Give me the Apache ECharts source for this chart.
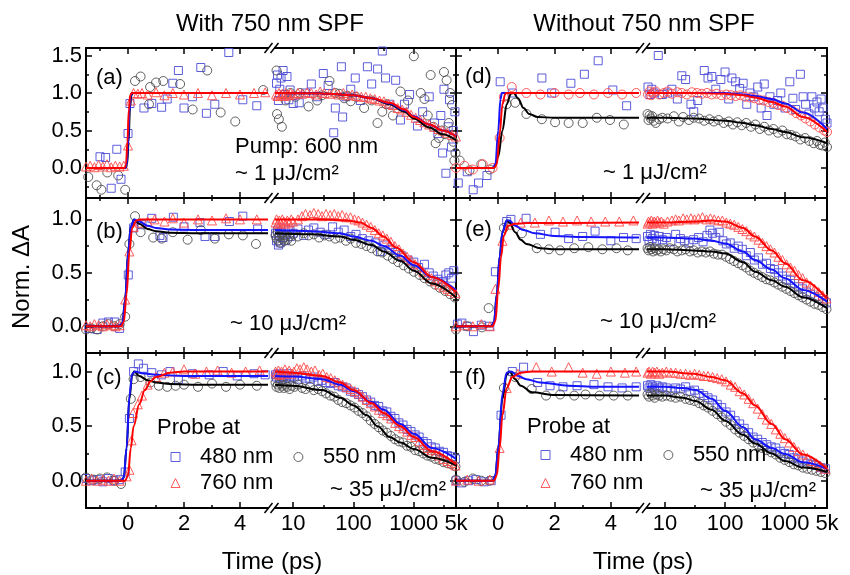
<!DOCTYPE html>
<html><head><meta charset="utf-8">
<script src="https://cdn.jsdelivr.net/npm/echarts@6/dist/echarts.min.js"></script>
<style>html,body{margin:0;padding:0;background:#fff}#c{width:850px;height:575px}</style>
</head><body><div id="c"></div>
<script>
// ================= DATA =================
const columnTitles = ['With 750 nm SPF', 'Without 750 nm SPF'];
const panelLabels = ['(a)', '(b)', '(c)', '(d)', '(e)', '(f)'];
const fluenceLabels = ['~ 1 μJ/cm²', '~ 10 μJ/cm²', '~ 35 μJ/cm²', '~ 1 μJ/cm²', '~ 10 μJ/cm²', '~ 35 μJ/cm²'];
const pumpLabel = 'Pump: 600 nm';
const legendTitle = 'Probe at';
const probeNames = ['480 nm', '550 nm', '760 nm'];
const xAxisName = 'Time (ps)';
const yAxisName = 'Norm. ΔA';
// axis ranges / ticks
const linRange = [-1.5, 5];
const logRange = [5, 5000];
const linMajorTicks = [0, 2, 4];
const linMinorTicks = [-1, 1, 3];
const logMajorTicks = [10, 100, 1000];
const logMinorTicks = [31.62, 316.2, 3162];
const logTickLabels = [10, 100, 1000, 5000];
const yRanges = [[-0.4, 1.6], [-0.25, 1.2], [-0.25, 1.17]];
const yMajorTicks = [[0, 0.5, 1, 1.5], [0, 0.5, 1], [0, 0.5, 1]];
const yMinorTicks = [[-0.25, 0.25, 0.75, 1.25], [0.25, 0.75], [0.25, 0.75]];

// ---- panel (a) ----
const a480 = [[-1.0,0.15],[-0.8,0.14],[-0.6,-0.27],[-0.4,0.25],[-0.25,-0.15],[0.0,0.46],[0.07,0.86],[0.57,0.8],[0.85,0.86],[1.2,0.81],[1.4,0.92],[1.6,1.13],[1.8,1.3],[2.0,0.8],[2.3,0.95],[2.6,1.34],[2.8,0.73],[3.1,0.85],[3.6,1.54],[4.1,0.91],[4.6,0.83],
 [5.3,1.13],[5.5,1.24],[5.7,0.9],[6.0,1.05],[6.3,1.2],[6.8,1.3],[7.2,0.98],[7.9,1.22],[8.5,0.91],[8.9,1.04],[10,0.86],[12.6,0.87],[16,1.0],[20,1.12],[25,0.95],[31.6,1.26],[38,1.1],[47,0.47],[50,0.8],[63,1.35],[66,0.68],[75,0.95],[90,1.05],[107,1.2],[130,0.9],[170,1.35],[200,1.12],[251,1.32],[300,1.56],[340,1.2],[400,0.85],[500,1.17],[600,0.64],[700,0.85],[850,0.98],[1150,0.56],[1400,0.75],[1800,0.95],[2200,0.6],[2500,0.46],[2800,0.7],[3000,0.2],[3160,1.05],[3400,-0.07],[3700,0.55],[3900,0.91],[4200,0.28],[4500,0.5],[4800,0.75]];
const a550 = [[-1.42,-0.12],[-1.12,-0.23],[-0.95,-0.29],[-0.74,-0.06],[-0.35,-0.1],[-0.1,-0.29],[0.25,1.16],[0.45,1.22],[0.75,0.85],[0.79,1.08],[1.0,1.14],[1.26,1.16],[1.86,1.12],[2.31,0.78],[2.83,1.3],[3.31,0.74],[3.83,0.62],[4.83,1.04],
 [5.3,1.3],[5.4,0.72],[5.8,0.65],[6.5,0.55],[7.5,0.9],[9,1.0],[11,0.95],[13,1.0],[18,0.82],[25,0.9],[30,0.97],[40,1.16],[50,1.0],[58,0.99],[70,0.93],[80,0.96],[90,0.89],[110,0.95],[150,0.8],[200,0.9],[250,0.6],[300,0.75],[350,0.85],[450,0.7],[600,1.02],[800,0.9],[1000,1.49],[1300,1.0],[1500,0.92],[1700,0.7],[1900,1.24],[2100,0.55],[2300,0.33],[2600,0.4],[2900,0.5],[3160,1.28],[3300,0.45],[3500,1.17],[3800,0.6],[4000,1.0],[4300,0.84],[4500,0.35],[4700,0.1],[4900,0.2]];
const a760 = [[-1.5,0.02],[-1.35,0.03],[-1.2,0.01],[-1.05,0.04],[-0.9,0.02],[-0.75,0.05],[-0.6,0.01],[-0.45,0.03],[-0.3,0.02],[-0.15,0.03],[0.0,0.3],[0.1,0.9],[0.2,1.0],[0.35,0.99],[0.5,1.0],[0.7,0.98],[1.0,1.01],[1.3,0.97],[1.6,1.0],[2.0,0.98],[2.5,1.0],[3.0,0.97],[3.5,1.0],[4.0,0.98],[4.5,1.0],[4.9,1.01],
 [5.2,0.98],[5.5,0.96],[5.8,1.0],[6.2,0.97],[6.6,0.99],[7,0.96],[7.5,1.0],[8,0.98],[8.5,0.97],[9,1.0],[10,0.98],[12,1.0],[14,0.99],[17,1.01],[20,1.0],[24,0.98],[28,1.02],[33,1.0],[40,0.99],[48,1.01],[57,0.98],[68,1.0],[80,0.97],[95,0.98],[113,0.96],[135,0.95],[160,0.95],[190,0.93],[225,0.92],[270,0.9],[320,0.89],[380,0.86],[450,0.84],[540,0.8],[640,0.78],[760,0.75],[900,0.71],[1070,0.67],[1270,0.64],[1500,0.61],[1800,0.58],[2150,0.55],[2550,0.52],[3000,0.5],[3600,0.47],[4300,0.44],[5000,0.42]];
const aFit480 = [[-1.5,0],[-0.1,0],[-0.05,0.04],[0,0.3],[0.05,0.75],[0.1,0.96],[0.15,1.0],[5,1.0],[30,0.995],[100,0.97],[200,0.93],[400,0.86],[700,0.77],[1000,0.69],[1800,0.58],[3000,0.5],[5000,0.42]];
const aFit550 = [[-1.5,0],[-0.08,0],[-0.03,0.05],[0.02,0.35],[0.07,0.8],[0.12,0.97],[0.18,1.0],[5,1.0],[30,0.995],[100,0.97],[200,0.93],[400,0.85],[700,0.75],[1000,0.66],[1800,0.54],[3000,0.45],[5000,0.37]];
const aFit760 = [[-1.5,0],[-0.12,0],[-0.07,0.05],[-0.02,0.35],[0.03,0.78],[0.08,0.97],[0.13,1.0],[5,1.0],[30,0.995],[100,0.97],[200,0.93],[400,0.87],[700,0.78],[1000,0.68],[1800,0.58],[3000,0.5],[5000,0.42]];

// ---- panel (b) ----
const b480 = [[-1.4,-0.02],[-1.1,-0.03],[-0.9,0.03],[-0.7,0.04],[-0.47,0.04],[-0.3,-0.02],[0.01,0.48],[0.2,0.92],[0.5,0.95],[0.85,1.01],[1.14,0.85],[1.25,0.83],[1.62,1.02],[2.0,0.93],[2.57,0.97],[2.75,0.84],[3.1,0.84],[3.62,0.98],[4.1,1.03],[4.63,0.91],
 [5.1,0.87],[5.3,0.8],[5.5,0.9],[5.7,0.76],[5.9,0.85],[6.1,0.78],[6.4,0.88],[6.7,0.83],[7,0.92],[7.4,0.8],[7.8,0.86],[8.3,0.9],[9,0.84],[10,0.87],[12,0.91],[15,0.85],[18,0.9],[22,0.92],[28,0.88],[35,0.86],[45,0.93],[56,0.88],[70,0.9],[90,0.84],[110,0.86],[140,0.82],[180,0.8],[230,0.78],[280,0.7],[330,0.76],[400,0.72],[500,0.69],[630,0.66],[800,0.62],[1000,0.6],[1200,0.55],[1500,0.58],[1800,0.5],[2100,0.47],[2500,0.44],[3000,0.42],[3400,0.48],[3800,0.5],[4200,0.45],[4600,0.52]];
const b550 = [[-1.5,-0.03],[-1.3,-0.02],[-1.1,-0.03],[-0.9,0.0],[-0.7,0.02],[-0.5,0.0],[-0.3,0.02],[-0.1,0.09],[0.05,0.77],[0.25,1.03],[0.45,0.88],[0.9,0.83],[1.2,0.82],[1.6,0.88],[2.13,0.81],[2.6,0.9],[3.1,0.82],[3.6,0.86],[4.1,0.85],[4.57,0.77],
 [5.1,0.85],[5.3,0.82],[5.5,0.88],[5.7,0.8],[5.9,0.84],[6.2,0.78],[6.5,0.86],[6.8,0.82],[7.1,0.8],[7.5,0.85],[8,0.81],[8.6,0.84],[9.3,0.8],[10,0.86],[12,0.84],[15,0.87],[18,0.85],[22,0.86],[27,0.83],[33,0.85],[40,0.84],[50,0.82],[60,0.83],[75,0.8],[90,0.82],[110,0.78],[135,0.77],[165,0.75],[200,0.73],[250,0.7],[300,0.69],[370,0.66],[450,0.63],[550,0.6],[680,0.57],[830,0.54],[1000,0.51],[1250,0.48],[1500,0.45],[1850,0.42],[2250,0.39],[2700,0.36],[3300,0.33],[4000,0.3],[4800,0.27]];
const b760 = [[-1.5,0.01],[-1.35,0.0],[-1.2,0.02],[-1.05,0.01],[-0.9,0.0],[-0.75,0.02],[-0.6,0.01],[-0.45,0.0],[-0.3,0.01],[-0.1,0.25],[0.05,0.7],[0.2,0.93],[0.43,0.97],[0.7,0.98],[0.95,1.0],[1.3,0.98],[1.6,1.01],[2.0,0.97],[2.5,1.0],[3.0,0.99],[3.5,1.01],[4.0,1.0],[4.6,1.0],
 [5.1,0.97],[5.3,1.0],[5.6,0.96],[5.9,0.99],[6.2,0.97],[6.6,1.0],[7,0.98],[7.5,0.96],[8,0.99],[8.6,0.97],[9.3,1.0],[10,0.98],[12,1.0],[14,1.03],[16,1.05],[19,1.04],[22,1.06],[26,1.05],[30,1.03],[35,1.05],[41,1.04],[48,1.05],[56,1.03],[65,1.04],[76,1.02],[89,1.02],[104,1.0],[121,0.99],[141,0.97],[165,0.95],[193,0.93],[225,0.9],[262,0.87],[306,0.85],[357,0.82],[417,0.79],[486,0.75],[567,0.72],[662,0.68],[772,0.65],[900,0.62],[1050,0.58],[1225,0.55],[1430,0.51],[1670,0.48],[1950,0.45],[2270,0.42],[2650,0.39],[3100,0.37],[3600,0.35],[4200,0.33],[4900,0.31]];
const bFit480 = [[-1.5,0],[-0.3,0],[-0.2,0.03],[-0.1,0.25],[0,0.68],[0.1,0.93],[0.22,1.0],[0.4,0.98],[0.7,0.94],[1.0,0.92],[1.5,0.905],[2.5,0.9],[5,0.9],[20,0.89],[60,0.87],[100,0.84],[200,0.8],[316,0.75],[600,0.66],[1000,0.57],[2000,0.46],[5000,0.34]];
const bFit550 = [[-1.5,0],[-0.3,0],[-0.2,0.03],[-0.1,0.25],[0,0.68],[0.1,0.93],[0.22,1.0],[0.4,0.96],[0.7,0.91],[1.0,0.89],[1.5,0.875],[2.5,0.87],[5,0.87],[20,0.86],[60,0.84],[100,0.81],[200,0.76],[316,0.7],[600,0.61],[1000,0.52],[2000,0.4],[5000,0.27]];
const bFit760 = [[-1.5,0],[-0.25,0],[-0.15,0.04],[-0.05,0.3],[0.05,0.7],[0.15,0.92],[0.3,0.99],[0.5,1.0],[5,1.0],[30,1.0],[80,0.99],[130,0.97],[200,0.92],[316,0.84],[500,0.74],[1000,0.6],[2000,0.46],[5000,0.32]];

// ---- panel (c) ----
const c480 = [[-1.5,0.02],[-1.3,0.0],[-1.1,0.01],[-0.9,-0.01],[-0.7,0.02],[-0.5,0.0],[-0.3,0.01],[-0.1,0.08],[0.05,0.57],[0.2,1.0],[0.37,1.07],[0.55,1.03],[0.85,0.99],[1.2,0.97],[1.5,1.0],[1.8,0.93],[2.3,0.98],[2.9,0.97],[3.4,1.0],[3.9,0.96],[4.5,0.98],[4.9,0.97],
 [5.1,0.97],[5.3,0.95],[5.6,0.98],[5.9,0.94],[6.2,0.97],[6.6,0.93],[7,0.96],[7.5,0.95],[8,0.98],[8.7,0.94],[9.5,0.96],[10.5,0.95],[12,0.93],[14,0.96],[16,0.94],[19,0.93],[22,0.95],[26,0.91],[30,0.92],[35,0.9],[41,0.89],[48,0.9],[56,0.87],[65,0.86],[76,0.85],[89,0.82],[104,0.81],[121,0.79],[141,0.77],[165,0.74],[193,0.72],[225,0.69],[262,0.68],[306,0.64],[357,0.63],[417,0.59],[486,0.57],[567,0.53],[662,0.51],[772,0.47],[900,0.45],[1050,0.42],[1225,0.4],[1430,0.36],[1670,0.34],[1950,0.31],[2270,0.3],[2650,0.27],[3100,0.26],[3600,0.23],[4200,0.22],[4900,0.2]];
const c550 = [[-1.5,0.03],[-1.25,0.01],[-1.0,0.02],[-0.75,0.03],[-0.5,0.0],[-0.25,-0.03],[0.1,0.75],[0.2,0.93],[0.45,0.95],[0.8,0.9],[1.1,0.87],[1.4,0.86],[1.7,0.87],[2.0,0.88],[2.5,0.86],[3.0,0.89],[3.5,0.86],[4.0,0.88],[4.6,0.87],
 [5.1,0.9],[5.3,0.86],[5.6,0.88],[5.9,0.85],[6.2,0.89],[6.6,0.87],[7,0.85],[7.5,0.88],[8,0.86],[8.7,0.84],[9.5,0.87],[10.5,0.86],[12,0.88],[14,0.85],[16,0.84],[19,0.86],[22,0.83],[26,0.84],[30,0.82],[35,0.8],[41,0.78],[48,0.77],[56,0.74],[65,0.72],[76,0.71],[89,0.69],[104,0.67],[121,0.64],[141,0.62],[165,0.59],[193,0.55],[225,0.52],[262,0.49],[306,0.46],[357,0.44],[417,0.41],[486,0.38],[567,0.36],[662,0.35],[772,0.32],[900,0.31],[1050,0.28],[1225,0.27],[1430,0.25],[1670,0.23],[1950,0.22],[2270,0.2],[2650,0.19],[3100,0.17],[3600,0.16],[4200,0.15],[4900,0.13]];
const c760 = [[-1.5,0.0],[-1.3,0.02],[-1.1,0.0],[-0.9,0.01],[-0.7,0.0],[-0.5,0.02],[-0.3,0.0],[-0.05,0.04],[0.05,0.1],[0.13,0.37],[0.18,0.62],[0.35,0.7],[0.5,0.78],[0.7,0.88],[1.0,0.95],[1.3,0.99],[1.6,1.0],[2.0,1.02],[2.4,0.98],[2.8,1.0],[3.2,1.01],[3.7,0.99],[4.2,1.0],[4.7,1.01],
 [5.1,1.0],[5.4,0.98],[5.7,1.01],[6.0,0.97],[6.4,1.0],[6.8,0.98],[7.3,1.02],[7.9,0.99],[8.6,1.01],[9.4,0.98],[10.3,1.0],[11.5,1.03],[13,1.02],[15,1.04],[17,1.02],[20,1.0],[23,1.01],[27,0.97],[31,0.98],[36,0.95],[42,0.94],[49,0.92],[57,0.9],[66,0.88],[77,0.86],[90,0.84],[105,0.82],[122,0.8],[142,0.77],[166,0.74],[194,0.71],[226,0.68],[264,0.65],[308,0.62],[360,0.6],[420,0.57],[490,0.53],[570,0.5],[665,0.48],[775,0.45],[905,0.42],[1055,0.4],[1230,0.36],[1435,0.33],[1675,0.3],[1955,0.28],[2280,0.25],[2660,0.23],[3100,0.2],[3620,0.18],[4220,0.16],[4900,0.14]];
const cFit480 = [[-1.5,0],[-0.25,0],[-0.15,0.03],[-0.05,0.3],[0.05,0.78],[0.15,0.98],[0.25,1.0],[0.5,0.985],[1,0.97],[2,0.96],[5,0.96],[10,0.955],[30,0.93],[60,0.88],[100,0.82],[200,0.72],[316,0.65],[600,0.52],[1000,0.43],[2000,0.3],[5000,0.2]];
const cFit550 = [[-1.5,0],[-0.25,0],[-0.15,0.03],[-0.05,0.3],[0.05,0.75],[0.15,0.97],[0.22,1.0],[0.4,0.96],[0.7,0.92],[1.0,0.9],[1.5,0.885],[2.5,0.88],[5,0.88],[10,0.87],[30,0.83],[60,0.76],[100,0.69],[166,0.6],[250,0.5],[400,0.4],[600,0.35],[1000,0.29],[2000,0.21],[5000,0.14]];
const cFit760 = [[-1.5,0],[-0.1,0],[0,0.05],[0.1,0.3],[0.2,0.5],[0.4,0.7],[0.6,0.83],[0.8,0.91],[1.0,0.95],[1.5,0.99],[2,1.0],[5,1.0],[10,0.99],[30,0.96],[60,0.9],[100,0.83],[200,0.71],[316,0.62],[600,0.5],[1000,0.4],[2000,0.27],[5000,0.15]];

// ---- panel (d) ----
const d480 = [[-1.42,-0.2],[-1.1,-0.05],[-0.89,-0.29],[-0.7,-0.2],[-0.4,-0.1],[0.07,1.15],[0.5,1.0],[1.55,1.2],[1.9,1.0],[2.58,1.13],[3.06,1.25],[3.55,1.43],[4.07,1.04],[4.56,0.83],
 [5.2,1.08],[5.6,0.98],[6,1.05],[6.5,1.0],[7.7,1.5],[9,0.98],[11,1.0],[13,1.05],[16,0.92],[19,1.23],[22,1.18],[27,0.85],[30,0.75],[35,0.9],[45,1.3],[52,1.2],[60,1.22],[70,1.05],[85,1.18],[100,1.28],[115,0.92],[130,1.2],[150,1.15],[175,1.06],[200,1.13],[230,0.85],[260,1.0],[300,0.95],[350,1.08],[400,0.8],[450,1.12],[500,0.7],[560,0.95],[650,0.85],[750,0.9],[850,1.0],[1000,0.8],[1200,1.15],[1350,0.93],[1500,0.78],[1800,1.25],[2000,0.95],[2200,0.85],[2500,0.72],[2800,0.95],[3100,0.8],[3400,0.88],[3700,0.75],[4000,0.92],[4300,0.8],[4700,0.65],[5000,0.6]];
const d550 = [[-1.37,0.1],[-1.02,-0.03],[-0.6,0.05],[-0.3,-0.02],[0.3,0.85],[0.6,0.87],[1.0,0.72],[1.55,0.65],[2.02,0.61],[2.5,0.6],[3.0,0.6],[3.5,0.67],[3.97,0.64],[4.46,0.58],
 [5.1,0.72],[5.3,0.64],[5.5,0.7],[5.8,0.66],[6.1,0.69],[6.5,0.63],[7,0.6],[8,0.65],[9,0.67],[11,0.66],[14,0.69],[17,0.62],[20,0.68],[25,0.64],[30,0.67],[37,0.66],[45,0.63],[55,0.65],[65,0.62],[78,0.64],[95,0.6],[115,0.62],[135,0.58],[160,0.61],[190,0.57],[225,0.6],[270,0.55],[320,0.58],[380,0.52],[450,0.55],[540,0.5],[640,0.52],[760,0.47],[900,0.5],[1070,0.45],[1270,0.44],[1500,0.42],[1800,0.38],[2150,0.4],[2550,0.36],[3000,0.33],[3400,0.36],[3800,0.31],[4200,0.3],[4600,0.34],[5000,0.28]];
const d760 = [[-1.5,0.0],[-1.2,0.03],[-0.9,-0.02],[-0.55,0.05],[-0.2,0.0],[0.05,0.4],[0.2,0.95],[0.48,1.08],[1.0,1.0],[1.5,0.98],[2.0,1.0],[2.5,0.98],[2.9,1.0],[3.4,0.98],[3.9,1.0],[4.4,0.98],[4.9,1.0],
 [5.2,0.98],[5.5,1.02],[5.9,0.97],[6.3,1.0],[7,1.02],[8,0.98],[9.5,1.0],[11,1.02],[13,0.99],[16,1.01],[19,1.0],[23,0.98],[28,1.01],[34,1.0],[41,0.99],[50,1.0],[60,0.98],[72,0.99],[87,0.97],[105,0.98],[126,0.97],[150,0.96],[180,0.97],[215,0.95],[260,0.94],[310,0.93],[370,0.91],[440,0.9],[530,0.88],[630,0.87],[760,0.84],[900,0.83],[1080,0.8],[1300,0.77],[1550,0.73],[1850,0.7],[2200,0.66],[2650,0.62],[3150,0.58],[3750,0.54],[4500,0.5],[5000,0.48]];
const dFit480 = [[-1.5,0],[-0.2,0],[-0.1,0.05],[0,0.5],[0.08,0.92],[0.13,1.0],[5,1.0],[30,1.0],[100,1.0],[200,0.98],[316,0.96],[600,0.92],[1000,0.86],[2000,0.74],[5000,0.52]];
const dFit550 = [[-1.5,0],[-0.15,0],[0,0.15],[0.15,0.5],[0.3,0.85],[0.45,0.99],[0.55,1.0],[0.7,0.93],[0.9,0.8],[1.1,0.72],[1.4,0.68],[2,0.67],[5,0.67],[10,0.67],[30,0.66],[100,0.63],[200,0.6],[316,0.57],[600,0.52],[1000,0.48],[2000,0.41],[5000,0.33]];
const dFit760 = [[-1.5,0],[-0.15,0],[-0.05,0.05],[0.05,0.45],[0.15,0.85],[0.25,0.99],[0.3,1.0],[5,1.0],[30,1.0],[100,0.99],[200,0.97],[316,0.94],[600,0.88],[1000,0.82],[2000,0.68],[5000,0.48]];

// ---- panel (e) ----
const e480 = [[-1.45,0.02],[-1.29,0.03],[-1.1,0.0],[-0.88,-0.05],[-0.6,0.01],[-0.3,0.0],[-0.1,0.51],[0.3,0.98],[0.45,1.0],[0.99,1.01],[1.5,0.86],[2.02,0.88],[2.5,0.82],[3.0,0.84],[3.44,0.89],[4.0,0.8],[4.45,0.83],[4.9,0.82],
 [5.1,0.84],[5.4,0.8],[5.7,0.86],[6.1,0.82],[6.6,0.85],[7.2,0.8],[8,0.84],[9,0.81],[10.5,0.83],[12.5,0.79],[15,0.86],[18,0.82],[21,0.8],[25,0.78],[30,0.81],[36,0.83],[43,0.79],[50,0.85],[56,0.9],[62,0.87],[70,0.83],[80,0.88],[92,0.8],[105,0.77],[122,0.78],[142,0.73],[166,0.75],[194,0.72],[226,0.66],[264,0.69],[308,0.62],[360,0.64],[420,0.58],[490,0.59],[570,0.54],[665,0.53],[775,0.5],[905,0.47],[1055,0.44],[1230,0.43],[1435,0.4],[1675,0.37],[1955,0.35],[2280,0.32],[2660,0.3],[3100,0.28],[3620,0.26],[4220,0.24],[4900,0.22]];
const e550 = [[-1.5,-0.03],[-1.1,0.0],[-0.58,-0.01],[-0.34,0.17],[0.2,0.92],[0.84,0.87],[1.37,0.73],[1.8,0.72],[2.2,0.71],[2.7,0.73],[3.2,0.74],[3.7,0.72],[4.2,0.73],[4.6,0.71],
 [5.1,0.73],[5.3,0.71],[5.6,0.74],[5.9,0.72],[6.3,0.7],[6.7,0.73],[7.2,0.71],[7.8,0.72],[8.5,0.7],[9.4,0.72],[10.5,0.71],[12,0.73],[14,0.72],[16,0.7],[19,0.71],[22,0.72],[26,0.7],[30,0.71],[35,0.69],[41,0.7],[48,0.69],[56,0.7],[65,0.68],[76,0.67],[89,0.67],[104,0.65],[121,0.63],[141,0.61],[165,0.59],[193,0.57],[225,0.55],[262,0.52],[306,0.5],[357,0.48],[417,0.46],[486,0.44],[567,0.43],[662,0.41],[772,0.39],[900,0.37],[1050,0.35],[1225,0.33],[1430,0.31],[1670,0.29],[1950,0.27],[2270,0.25],[2650,0.23],[3100,0.21],[3600,0.2],[4200,0.18],[4900,0.16]];
const e760 = [[-1.5,0.0],[-1.2,0.01],[-0.9,0.0],[-0.6,0.02],[-0.3,0.0],[-0.1,0.35],[0.15,0.8],[0.4,0.95],[0.8,0.97],[1.3,0.97],[1.8,0.99],[2.3,0.98],[2.8,0.99],[3.3,0.98],[3.8,0.98],[4.3,0.98],[4.8,0.99],
 [5.1,0.96],[5.3,0.98],[5.6,0.97],[5.9,0.99],[6.2,0.96],[6.6,0.98],[7,0.97],[7.5,0.99],[8,0.97],[8.7,0.98],[9.5,0.96],[11,0.98],[13,0.99],[15,1.0],[17,0.99],[20,1.01],[23,1.0],[27,1.01],[31,1.0],[36,1.01],[42,1.02],[49,1.0],[57,1.01],[66,1.0],[77,0.99],[90,0.99],[105,0.97],[122,0.96],[142,0.95],[166,0.93],[194,0.91],[226,0.89],[264,0.86],[308,0.84],[360,0.81],[420,0.78],[490,0.75],[570,0.72],[665,0.69],[775,0.65],[905,0.62],[1055,0.58],[1230,0.55],[1435,0.52],[1675,0.48],[1955,0.45],[2280,0.41],[2660,0.38],[3100,0.35],[3620,0.32],[4220,0.29],[4900,0.26]];
const eFit480 = [[-1.5,0],[-0.25,0],[-0.15,0.04],[-0.05,0.3],[0.05,0.65],[0.15,0.88],[0.3,0.99],[0.4,0.99],[0.6,0.94],[0.9,0.9],[1.3,0.87],[2,0.845],[3,0.835],[5,0.83],[10,0.83],[30,0.82],[60,0.8],[100,0.775],[200,0.7],[316,0.62],[600,0.53],[1000,0.45],[2000,0.34],[5000,0.23]];
const eFit550 = [[-1.5,0],[-0.25,0],[-0.15,0.04],[-0.05,0.3],[0.05,0.65],[0.15,0.88],[0.3,0.99],[0.4,0.97],[0.6,0.88],[0.8,0.81],[1,0.77],[1.5,0.73],[2,0.72],[5,0.72],[10,0.72],[30,0.71],[60,0.7],[100,0.68],[200,0.6],[316,0.51],[600,0.43],[1000,0.37],[2000,0.27],[5000,0.17]];
const eFit760 = [[-1.5,0],[-0.2,0],[-0.1,0.05],[0,0.35],[0.1,0.65],[0.2,0.85],[0.35,0.94],[0.6,0.96],[1,0.965],[5,0.97],[10,0.97],[30,0.98],[60,0.99],[100,0.98],[200,0.92],[316,0.84],[600,0.71],[1000,0.59],[2000,0.43],[5000,0.26]];

// ---- panel (f) ----
const f480 = [[-1.5,0.0],[-1.3,-0.02],[-1.05,0.0],[-0.8,0.01],[-0.5,-0.01],[-0.25,0.0],[0.1,0.6],[0.5,1.0],[0.9,1.04],[1.4,0.9],[1.84,0.87],[2.3,0.86],[2.8,0.87],[3.4,0.88],[3.9,0.86],[4.4,0.85],[4.9,0.86],
 [5.1,0.87],[5.4,0.85],[5.8,0.88],[6.2,0.86],[6.7,0.84],[7.3,0.87],[8,0.85],[9,0.86],[10.5,0.85],[12.5,0.83],[15,0.85],[18,0.84],[22,0.86],[26,0.82],[31,0.83],[37,0.8],[44,0.78],[52,0.76],[62,0.74],[74,0.7],[88,0.67],[104,0.63],[124,0.6],[147,0.55],[175,0.52],[208,0.48],[247,0.44],[294,0.4],[350,0.38],[416,0.35],[495,0.33],[588,0.31],[700,0.3],[832,0.27],[990,0.25],[1177,0.24],[1400,0.21],[1665,0.2],[1980,0.18],[2355,0.16],[2800,0.15],[3330,0.14],[3960,0.12],[4700,0.11]];
const f550 = [[-1.5,0.01],[-1.2,-0.01],[-0.9,0.02],[-0.6,0.0],[-0.3,0.0],[0.2,0.85],[0.6,0.95],[1.19,0.84],[1.7,0.78],[2.2,0.79],[2.7,0.78],[3.1,0.79],[3.6,0.78],[4.1,0.78],[4.6,0.78],
 [5.1,0.79],[5.4,0.77],[5.8,0.8],[6.2,0.78],[6.7,0.76],[7.3,0.79],[8,0.78],[9,0.77],[10.5,0.78],[12.5,0.77],[15,0.76],[18,0.77],[22,0.75],[26,0.74],[31,0.73],[37,0.71],[44,0.69],[52,0.67],[62,0.64],[74,0.61],[88,0.58],[104,0.54],[124,0.51],[147,0.47],[175,0.44],[208,0.41],[247,0.38],[294,0.35],[350,0.33],[416,0.3],[495,0.28],[588,0.26],[700,0.24],[832,0.21],[990,0.19],[1177,0.17],[1400,0.15],[1665,0.14],[1980,0.12],[2355,0.11],[2800,0.1],[3330,0.09],[3960,0.08],[4700,0.07]];
const f760 = [[-1.5,0.0],[-1.1,0.01],[-0.7,0.0],[-0.3,0.01],[0.05,0.3],[0.3,0.85],[0.7,0.98],[1.35,1.04],[1.9,1.0],[2.5,1.04],[3.0,0.99],[3.5,0.98],[4.0,1.0],[4.5,0.99],[4.9,1.0],
 [5.1,0.99],[5.4,1.0],[5.8,0.98],[6.2,1.0],[6.7,0.99],[7.3,1.0],[8,0.98],[9,0.99],[10.5,1.0],[12.5,0.99],[15,0.99],[18,0.98],[22,0.98],[26,0.97],[31,0.98],[37,0.97],[44,0.96],[52,0.96],[62,0.95],[74,0.94],[88,0.93],[104,0.91],[124,0.88],[147,0.86],[175,0.82],[208,0.79],[247,0.75],[294,0.71],[350,0.66],[416,0.61],[495,0.56],[588,0.52],[700,0.47],[832,0.43],[990,0.39],[1177,0.35],[1400,0.31],[1665,0.27],[1980,0.24],[2355,0.21],[2800,0.18],[3330,0.16],[3960,0.13],[4700,0.11]];
const fFit480 = [[-1.5,0],[-0.2,0],[-0.1,0.05],[0,0.3],[0.15,0.8],[0.3,0.99],[0.45,1.0],[0.7,0.96],[1,0.93],[1.5,0.9],[2.5,0.87],[3.5,0.86],[5,0.86],[10,0.86],[20,0.85],[32,0.83],[60,0.75],[100,0.64],[200,0.49],[316,0.38],[600,0.3],[1000,0.245],[2000,0.17],[5000,0.11]];
const fFit550 = [[-1.5,0],[-0.2,0],[-0.1,0.05],[0,0.3],[0.15,0.75],[0.3,0.97],[0.4,1.0],[0.6,0.93],[0.8,0.87],[1.2,0.81],[2,0.785],[5,0.78],[10,0.78],[20,0.76],[32,0.73],[60,0.65],[100,0.55],[200,0.42],[316,0.34],[600,0.25],[1000,0.18],[2000,0.12],[5000,0.08]];
const fFit760 = [[-1.5,0],[-0.15,0],[-0.05,0.05],[0.05,0.3],[0.15,0.6],[0.3,0.85],[0.5,0.95],[0.8,0.99],[1.2,1.0],[5,1.0],[10,1.0],[30,0.98],[60,0.95],[100,0.92],[200,0.8],[316,0.69],[600,0.52],[1000,0.38],[2000,0.24],[5000,0.11]];

// ================= LAYOUT / STYLE =================
const FF = "'Liberation Sans', Arial, Helvetica, sans-serif";
const rowTop = [48, 198, 353], rowH = [150, 155, 155];
const linLeft = [86, 456], linW = [182, 183];
const logLeft = [275, 647], logW = [181, 180];
const colors = ['#4b4bd8', '#505050', '#ff4a4a'];
const lineColors = ['#1414ff', '#000000', '#ff0000'];
const symbols = ['rect', 'circle', 'triangle'];
const symSizes = [8, 9, 9];

const panels = [
  {pts: [a480, a550, a760], fits: [aFit480, aFit550, aFit760]},
  {pts: [b480, b550, b760], fits: [bFit480, bFit550, bFit760]},
  {pts: [c480, c550, c760], fits: [cFit480, cFit550, cFit760]},
  {pts: [d480, d550, d760], fits: [dFit480, dFit550, dFit760], redSymbol: 'circle'},
  {pts: [e480, e550, e760], fits: [eFit480, eFit550, eFit760]},
  {pts: [f480, f550, f760], fits: [fFit480, fFit550, fFit760]}
];

const grids = [], xAxes = [], yAxes = [], series = [];
const axLine = {show: true, onZero: false, lineStyle: {color: '#000', width: 2}};
const tickStyle = {color: '#000', width: 1.5};

function addX(gi, isLog, pos, ticks, len, line, labels) {
  const ax = {
    gridIndex: gi, type: isLog ? 'log' : 'value', logBase: 10,
    min: isLog ? logRange[0] : linRange[0], max: isLog ? logRange[1] : linRange[1],
    position: pos, splitLine: {show: false}, minorTick: {show: false},
    axisLine: line ? axLine : {show: false, onZero: false},
    axisTick: {show: true, inside: true, length: len, customValues: ticks, lineStyle: tickStyle},
    axisLabel: {show: false}
  };
  if (labels) {
    ax.axisLabel = {show: true, customValues: labels, fontSize: 22, fontFamily: FF, color: '#000', margin: 5,
      showMinLabel: true, showMaxLabel: true, hideOverlap: false,
      formatter: v => (v >= 5000 ? '5k' : String(Math.round(v)))};
  }
  xAxes.push(ax);
  return xAxes.length - 1;
}
function addY(gi, row, pos, ticks, len, line, labels) {
  const ax = {
    gridIndex: gi, type: 'value', min: yRanges[row][0], max: yRanges[row][1],
    position: pos, splitLine: {show: false}, minorTick: {show: false},
    axisLine: line ? axLine : {show: false, onZero: false},
    axisTick: {show: true, inside: true, length: len, customValues: ticks, lineStyle: tickStyle},
    axisLabel: {show: false}
  };
  if (labels) {
    ax.axisLabel = {show: true, customValues: labels, fontSize: 22, fontFamily: FF, color: '#000', margin: 4,
      showMinLabel: true, showMaxLabel: true, formatter: v => v.toFixed(1)};
  }
  yAxes.push(ax);
  return yAxes.length - 1;
}

panels.forEach((p, pi) => {
  const col = pi < 3 ? 0 : 1, row = pi % 3;
  const bottomRow = row === 2;
  ['lin', 'log'].forEach(kind => {
    const isLog = kind === 'log';
    grids.push({left: isLog ? logLeft[col] : linLeft[col], width: isLog ? logW[col] : linW[col],
      top: rowTop[row], height: rowH[row], containLabel: false});
    const gi = grids.length - 1;
    const major = isLog ? logMajorTicks : linMajorTicks;
    const minor = isLog ? logMinorTicks : linMinorTicks;
    const labels = bottomRow ? (isLog ? logTickLabels : linMajorTicks) : null;
    const xi = addX(gi, isLog, 'bottom', major, 6, true, labels);
    addX(gi, isLog, 'bottom', minor, 3, false, null);
    addX(gi, isLog, 'top', major, 6, true, null);
    addX(gi, isLog, 'top', minor, 3, false, null);
    const ypos = isLog ? 'right' : 'left';
    const ylabels = (!isLog && col === 0) ? yMajorTicks[row] : null;
    const yi = addY(gi, row, ypos, yMajorTicks[row], 6, true, ylabels);
    addY(gi, row, ypos, yMinorTicks[row], 3, false, null);
    const keep = d => (isLog ? d[0] >= 5 : d[0] <= 5);
    p.pts.forEach((arr, k) => {
      let sym = symbols[k];
      if (k === 2 && p.redSymbol) sym = p.redSymbol;
      series.push({
        type: 'scatter', name: probeNames[k], xAxisIndex: xi, yAxisIndex: yi,
        data: arr.filter(keep), symbol: sym, symbolSize: symSizes[k], z: 2, silent: true,
        itemStyle: {color: 'rgba(255,255,255,0)', borderColor: colors[k], borderWidth: 1, opacity: 0.9}
      });
    });
    [1, 0, 2].forEach(k => {
      series.push({
        type: 'line', name: 'fit ' + probeNames[k], xAxisIndex: xi, yAxisIndex: yi,
        data: p.fits[k].filter(keep), showSymbol: false, symbol: 'none', smooth: 0.35, smoothMonotone: 'x',
        z: 3, silent: true, lineStyle: {color: lineColors[k], width: 2}
      });
    });
  });
});

// ================= TEXT / DECOR =================
const graphic = [];
function txt(t, x, y, size, align, rot) {
  graphic.push({type: 'text', x: x, y: y, rotation: rot || 0, silent: true, z: 10,
    style: {text: t, fontSize: size, fontFamily: FF, fill: '#000',
      textAlign: align || 'left', textVerticalAlign: 'middle', align: align || 'left', verticalAlign: 'middle'}});
}
txt(columnTitles[0], 270, 24, 24, 'center');
txt(columnTitles[1], 644, 24, 24, 'center');
txt(xAxisName, 272, 562, 24, 'center');
txt(xAxisName, 643, 562, 24, 'center');
txt(yAxisName, 22, 277, 24, 'center', Math.PI / 2);
const labelPos = [[96, 78], [96, 232], [96, 378], [465, 77], [465, 230], [465, 378]];
panelLabels.forEach((l, i) => txt(l, labelPos[i][0], labelPos[i][1], 22, 'left'));
txt(pumpLabel, 235, 147, 22, 'left');
const fluPos = [[235, 174], [230, 324], [330, 490], [603, 173], [600, 322], [700, 491]];
fluenceLabels.forEach((l, i) => txt(l, fluPos[i][0], fluPos[i][1], 22, 'left'));
txt(legendTitle, 157, 428, 22, 'left');
txt(legendTitle, 527, 427, 22, 'left');
const breakX = [271.5, 643];
const breakY = [48, 198, 353, 508];
breakX.forEach(bx => breakY.forEach(by => {
  [-3, 3].forEach(dx => graphic.push({type: 'line', silent: true, z: 10,
    shape: {x1: bx + dx - 4, y1: by + 5, x2: bx + dx + 4, y2: by - 5},
    style: {stroke: '#000', lineWidth: 1.5}}));
}));

const legendBase = {itemWidth: 9, itemHeight: 9, itemGap: 20, padding: 0, selectedMode: false,
  formatter: n => '{g|}' + n,
  itemStyle: {borderWidth: 1},
  textStyle: {fontSize: 22, fontFamily: FF, color: '#000', rich: {g: {width: 15}}}};
const legends = [
  Object.assign({}, legendBase, {data: [probeNames[0], probeNames[1]], left: 170.5, top: 446}),
  Object.assign({}, legendBase, {data: [probeNames[2]], left: 170.5, top: 472}),
  Object.assign({}, legendBase, {data: [probeNames[0], probeNames[1]], left: 540.5, top: 444}),
  Object.assign({}, legendBase, {data: [probeNames[2]], left: 540.5, top: 472})
];

const chart = echarts.init(document.getElementById('c'), null, {renderer: 'canvas'});
chart.setOption({
  backgroundColor: '#fff', animation: false, textStyle: {fontFamily: FF},
  grid: grids, xAxis: xAxes, yAxis: yAxes, series: series, legend: legends, graphic: graphic
});
</script></body></html>
